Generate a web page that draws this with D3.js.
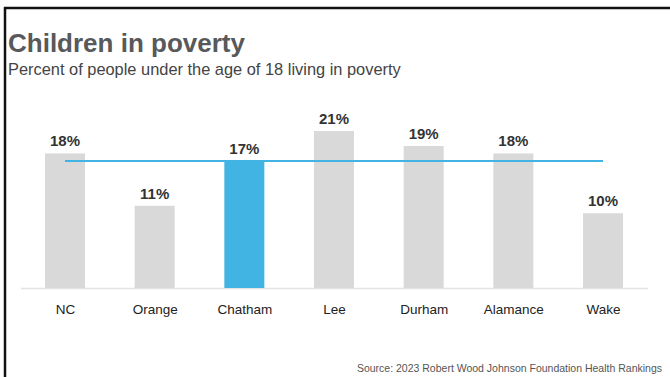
<!DOCTYPE html>
<html><head><meta charset="utf-8">
<script src="https://cdn.jsdelivr.net/npm/d3@7"></script>
<style>
html,body{margin:0;padding:0;background:#fff;}
svg{display:block;}
</style></head>
<body>
<svg id="chart" width="670" height="377"></svg>
<script>
const categories = ["NC","Orange","Chatham","Lee","Durham","Alamance","Wake"];
const values = [18,11,17,21,19,18,10];
const highlight = "Chatham";
const referenceValue = 17;
const titleText = "Children in poverty";
const subtitleText = "Percent of people under the age of 18 living in poverty";
const sourceText = "Source: 2023 Robert Wood Johnson Foundation Health Rankings";

const svg = d3.select("#chart");
const W = 670, H = 377;

// frame (left + top)
svg.append("line").attr("x1",5).attr("x2",5).attr("y1",7).attr("y2",H).attr("stroke","#111").attr("stroke-width",2.5);
svg.append("line").attr("x1",4).attr("x2",W).attr("y1",8).attr("y2",8).attr("stroke","#111").attr("stroke-width",2.5);

svg.append("text").attr("x",8).attr("y",52).text(titleText)
  .attr("font-family","'Liberation Sans',Arial,sans-serif")
  .attr("font-weight","bold").attr("font-size",26).attr("fill","#58595b");
svg.append("text").attr("x",8).attr("y",75).text(subtitleText)
  .attr("font-family","'Liberation Sans',Arial,sans-serif")
  .attr("font-size",16.4).attr("fill","#444");

const x = d3.scalePoint().domain(categories).range([65,603]);
const y = d3.scaleLinear().domain([0,21]).range([288,131]);
const bw = 40;

svg.append("line").attr("x1",21).attr("x2",648).attr("y1",288.5).attr("y2",288.5)
  .attr("stroke","#e3e3e3").attr("stroke-width",1.5);

const data = categories.map((c,i)=>({c, v: values[i]}));

svg.selectAll("rect.bar").data(data).join("rect").attr("class","bar")
  .attr("x", d=>x(d.c)-bw/2).attr("width",bw)
  .attr("y", d=>y(d.v)).attr("height", d=>y(0)-y(d.v))
  .attr("fill", d=> d.c===highlight ? "#41b4e4" : "#d9d9d9");

svg.append("line").attr("x1",x(categories[0])).attr("x2",x(categories[categories.length-1]))
  .attr("y1",y(referenceValue)).attr("y2",y(referenceValue))
  .attr("stroke","#41b4e4").attr("stroke-width",2);

svg.selectAll("text.val").data(data).join("text").attr("class","val")
  .attr("x", d=>x(d.c)).attr("y", d=>y(d.v)-7)
  .attr("text-anchor","middle")
  .attr("font-family","'Liberation Sans',Arial,sans-serif")
  .attr("font-weight","bold").attr("font-size",15).attr("fill","#333")
  .text(d=>d.v+"%");

const axis = d3.axisBottom(x).tickSize(0).tickPadding(0);
const ax = svg.append("g").attr("transform","translate(0,288)").call(axis);
ax.select(".domain").remove();
ax.selectAll("text").attr("dy",0).attr("y",26)
  .attr("font-family","'Liberation Sans',Arial,sans-serif")
  .attr("font-size",13.5).attr("fill","#222");

svg.append("text").attr("x",662).attr("y",372).attr("text-anchor","end").text(sourceText)
  .attr("font-family","'Liberation Sans',Arial,sans-serif")
  .attr("font-size",10.5).attr("fill","#555");
</script>
</body></html>
